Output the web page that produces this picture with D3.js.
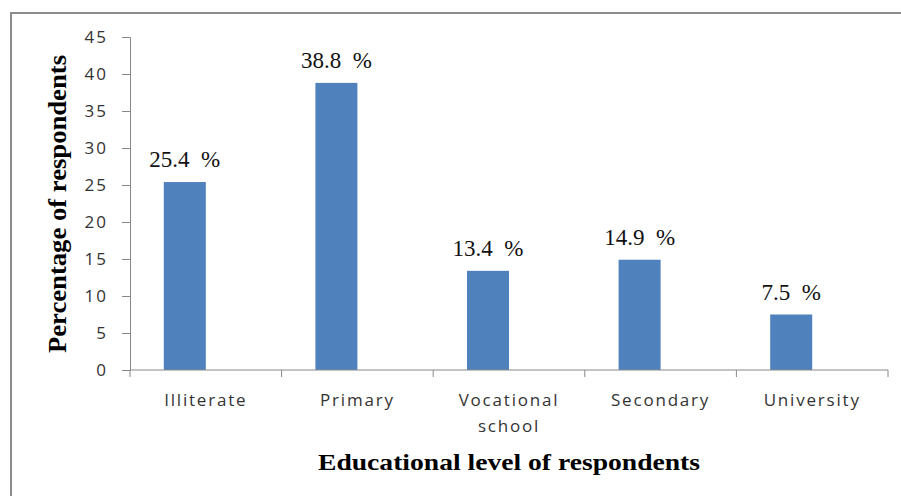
<!DOCTYPE html>
<html>
<head>
<meta charset="utf-8">
<script src="https://cdn.jsdelivr.net/npm/d3@7"></script>
<style>
  body { margin: 0; background: #fff; }
  svg { display: block; }
</style>
</head>
<body>
<svg id="chart" width="901" height="496"></svg>
<script>
// data
var categories = ['Illiterate', 'Primary', 'Vocational school', 'Secondary', 'University'];
var values = [25.4, 38.8, 13.4, 14.9, 7.5];
var valueLabels = ['25.4  %', '38.8  %', '13.4  %', '14.9  %', '7.5  %'];
var yTicks = [0, 5, 10, 15, 20, 25, 30, 35, 40, 45];

var svg = d3.select('#chart');

// outer frame
svg.append('rect')
  .attr('x', 11).attr('y', 13)
  .attr('width', 900).attr('height', 500)
  .attr('fill', 'none')
  .attr('stroke', '#8c8c8c')
  .attr('stroke-width', 2);

var margins = { left: 130, top: 37, right: 13, bottom: 126 };
var width = 901 - margins.left - margins.right;
var height = 496 - margins.top - margins.bottom;

var x = d3.scaleBand().domain(categories).range([0, width]);
var y = d3.scaleLinear().domain([0, 45]).range([height, 0]);

var g = svg.append('g')
  .attr('transform', 'translate(' + margins.left + ',' + margins.top + ')');

// bars sit a little left of the band centre in the original
var barW = 42, barShift = -21;

g.selectAll('rect.bar').data(values).enter()
  .append('rect')
  .attr('class', 'bar')
  .attr('x', function(d, i) { return x(categories[i]) + x.bandwidth() / 2 + barShift - barW / 2; })
  .attr('y', function(d) { return y(d); })
  .attr('width', barW)
  .attr('height', function(d) { return height - y(d); })
  .attr('fill', '#4f81bd');

g.selectAll('text.val').data(values).enter()
  .append('text')
  .attr('class', 'val')
  .attr('x', function(d, i) { return x(categories[i]) + x.bandwidth() / 2 + barShift; })
  .attr('y', function(d) { return y(d) - 15; })
  .attr('text-anchor', 'middle')
  .attr('xml:space', 'preserve')
  .style('white-space', 'pre')
  .attr('font-family', 'Liberation Serif, serif')
  .attr('font-size', 23)
  .attr('fill', '#111')
  .text(function(d, i) { return valueLabels[i]; });

// y axis
var yAxis = g.append('g')
  .call(d3.axisLeft(y).tickValues(yTicks).tickSize(8).tickPadding(14));
yAxis.selectAll('line, path').attr('stroke', '#888');
yAxis.selectAll('text')
  .attr('font-family', 'Open Sans, sans-serif')
  .attr('font-size', 17)
  .attr('letter-spacing', 2)
  .attr('fill', '#333');

// x axis: ticks at band edges
var xAxis = g.append('g')
  .attr('transform', 'translate(0,' + height + ')');
xAxis.append('line')
  .attr('x1', 0).attr('x2', width)
  .attr('stroke', '#888');
var edges = categories.map(function(c) { return x(c); }).concat([width]);
xAxis.selectAll('line.tick').data(edges).enter()
  .append('line')
  .attr('class', 'tick')
  .attr('x1', function(d) { return d; }).attr('x2', function(d) { return d; })
  .attr('y1', 0).attr('y2', 7)
  .attr('stroke', '#888');

var cat = xAxis.selectAll('text.cat').data(categories).enter()
  .append('text')
  .attr('class', 'cat')
  .attr('text-anchor', 'middle')
  .attr('font-family', 'Open Sans, sans-serif')
  .attr('font-size', 17)
  .attr('letter-spacing', 1.8)
  .attr('fill', '#333');
cat.each(function(c) {
  var words = c === 'Vocational school' ? ['Vocational', 'school'] : [c];
  var t = d3.select(this);
  words.forEach(function(w, k) {
    t.append('tspan')
      .attr('x', x(c) + x.bandwidth() / 2)
      .attr('y', 36 + k * 26)
      .text(w);
  });
});

// axis titles
svg.append('text')
  .attr('transform', 'translate(66,204) rotate(-90)')
  .attr('text-anchor', 'middle')
  .attr('font-family', 'Liberation Serif, serif')
  .attr('font-weight', 'bold')
  .attr('font-size', 25)
  .attr('textLength', 298)
  .attr('lengthAdjust', 'spacingAndGlyphs')
  .attr('fill', '#000')
  .text('Percentage of respondents');

svg.append('text')
  .attr('x', 509).attr('y', 470)
  .attr('text-anchor', 'middle')
  .attr('font-family', 'Liberation Serif, serif')
  .attr('font-weight', 'bold')
  .attr('font-size', 24)
  .attr('textLength', 382)
  .attr('lengthAdjust', 'spacingAndGlyphs')
  .attr('fill', '#000')
  .text('Educational level of respondents');
</script>
</body>
</html>
